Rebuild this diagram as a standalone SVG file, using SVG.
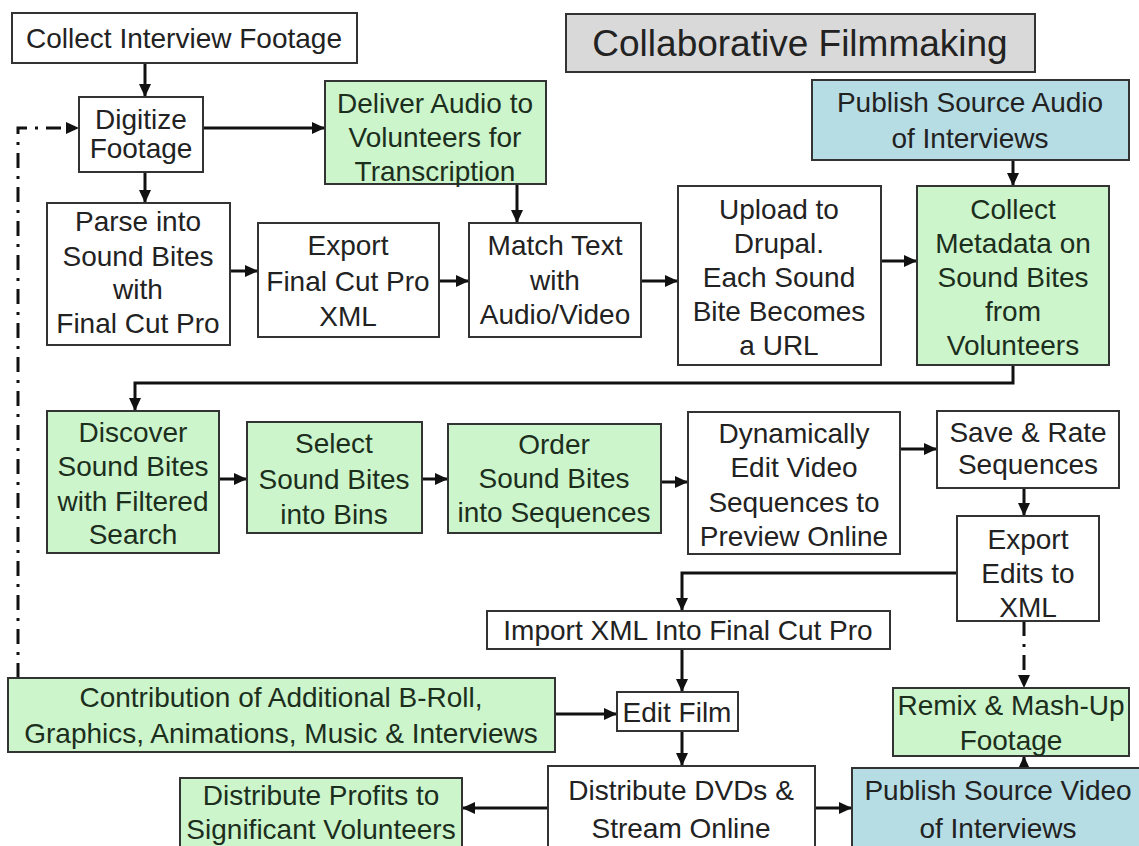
<svg xmlns="http://www.w3.org/2000/svg" width="1139" height="846" viewBox="0 0 1139 846">
<defs>
<marker id="ah" markerUnits="userSpaceOnUse" markerWidth="14" markerHeight="12" refX="13" refY="6" orient="auto"><path d="M0,0 L13,6 L0,12 z" fill="#111"/></marker>
<style>
.b{fill:#fff;stroke:#333;stroke-width:2}
.g{fill:#ccf5cc;stroke:#333;stroke-width:2}
.u{fill:#b6dde4;stroke:#333;stroke-width:2}
.t{fill:#d9d9d9;stroke:#333;stroke-width:2}
text{font-family:"Liberation Sans",Arial,sans-serif;font-size:28px;fill:#222;text-anchor:middle}
.gt text{fill:#1c2e1c}
.c{fill:none;stroke:#111;stroke-width:3;marker-end:url(#ah)}
.d{fill:none;stroke:#111;stroke-width:3;stroke-dasharray:15 8 3 8;marker-end:url(#ah)}
</style>
</defs>
<rect width="1139" height="846" fill="#fff"/>
<g id="connectors">
<path class="c" d="M145,63 V97"/>
<path class="c" d="M203,128 H325"/>
<path class="c" d="M145,172 V203"/>
<path class="c" d="M230,271 H258"/>
<path class="c" d="M439,281 H469"/>
<path class="c" d="M517,184 V223"/>
<path class="c" d="M641,281 H678"/>
<path class="c" d="M881,261 H917"/>
<path class="c" d="M1013,160 V186"/>
<path class="c" d="M1013,365 V383 H135 V411"/>
<path class="c" d="M219,479 H247"/>
<path class="c" d="M422,479 H448"/>
<path class="c" d="M661,482 H688"/>
<path class="c" d="M900,449 H937"/>
<path class="c" d="M1024,488 V516"/>
<path class="c" d="M957,573 H682 V611"/>
<path class="c" d="M682,649 V692"/>
<path class="c" d="M555,714 H617"/>
<path class="c" d="M682,731 V766"/>
<path class="c" d="M548,808 H462"/>
<path class="c" d="M815,808 H852"/>
<path class="c" d="M1024,768 V756"/>
<path class="d" d="M1024,621 V688"/>
<path class="d" d="M18,678 V128 H79"/>
</g>
<g id="title"><rect class="t" x="566" y="14" width="469" height="58"/><text x="800" y="56" style="font-size:37px">Collaborative Filmmaking</text></g>
<g id="collect"><rect class="b" x="12" y="13" width="345" height="50"/><text x="184" y="48">Collect Interview Footage</text></g>
<g id="digitize"><rect class="b" x="79" y="97" width="124" height="75"/><text x="141" y="129">Digitize</text><text x="141" y="158">Footage</text></g>
<g id="deliver" class="gt"><rect class="g" x="325" y="81" width="221" height="103"/><text x="435" y="113">Deliver Audio to</text><text x="435" y="147">Volunteers for</text><text x="435" y="181">Transcription</text></g>
<g id="pubaudio"><rect class="u" x="812" y="80" width="317" height="80"/><text x="970" y="112">Publish Source Audio</text><text x="970" y="148">of Interviews</text></g>
<g id="parse"><rect class="b" x="47" y="203" width="183" height="142"/><text x="138" y="231">Parse into</text><text x="138" y="266">Sound Bites</text><text x="138" y="299">with</text><text x="138" y="333">Final Cut Pro</text></g>
<g id="exportfcp"><rect class="b" x="258" y="223" width="181" height="114"/><text x="348" y="255">Export</text><text x="348" y="291">Final Cut Pro</text><text x="348" y="326">XML</text></g>
<g id="match"><rect class="b" x="469" y="223" width="172" height="114"/><text x="555" y="255">Match Text</text><text x="555" y="290">with</text><text x="555" y="324">Audio/Video</text></g>
<g id="upload"><rect class="b" x="678" y="186" width="203" height="179"/><text x="779" y="219">Upload to</text><text x="779" y="253">Drupal.</text><text x="779" y="287">Each Sound</text><text x="779" y="321">Bite Becomes</text><text x="779" y="355">a URL</text></g>
<g id="metadata" class="gt"><rect class="g" x="917" y="186" width="192" height="179"/><text x="1013" y="219">Collect</text><text x="1013" y="253">Metadata on</text><text x="1013" y="287">Sound Bites</text><text x="1013" y="321">from</text><text x="1013" y="355">Volunteers</text></g>
<g id="discover" class="gt"><rect class="g" x="47" y="411" width="172" height="142"/><text x="133" y="442">Discover</text><text x="133" y="476">Sound Bites</text><text x="133" y="511">with Filtered</text><text x="133" y="544">Search</text></g>
<g id="select" class="gt"><rect class="g" x="247" y="422" width="175" height="111"/><text x="334" y="453">Select</text><text x="334" y="489">Sound Bites</text><text x="334" y="524">into Bins</text></g>
<g id="order" class="gt"><rect class="g" x="448" y="424" width="213" height="109"/><text x="554" y="454">Order</text><text x="554" y="488">Sound Bites</text><text x="554" y="522">into Sequences</text></g>
<g id="dynamic"><rect class="b" x="688" y="412" width="212" height="142"/><text x="794" y="443">Dynamically</text><text x="794" y="477">Edit Video</text><text x="794" y="512">Sequences to</text><text x="794" y="546">Preview Online</text></g>
<g id="save"><rect class="b" x="937" y="411" width="182" height="77"/><text x="1028" y="442">Save &amp; Rate</text><text x="1028" y="474">Sequences</text></g>
<g id="exportedits"><rect class="b" x="957" y="516" width="142" height="105"/><text x="1028" y="549">Export</text><text x="1028" y="583">Edits to</text><text x="1028" y="617">XML</text></g>
<g id="import"><rect class="b" x="487" y="611" width="403" height="38"/><text x="688" y="640">Import XML Into Final Cut Pro</text></g>
<g id="contribution" class="gt"><rect class="g" x="8" y="678" width="547" height="74"/><text x="281" y="707">Contribution of Additional B-Roll,</text><text x="281" y="743">Graphics, Animations, Music &amp; Interviews</text></g>
<g id="editfilm"><rect class="b" x="617" y="692" width="121" height="39"/><text x="677" y="722">Edit Film</text></g>
<g id="remix" class="gt"><rect class="g" x="893" y="688" width="236" height="68"/><text x="1011" y="715">Remix &amp; Mash-Up</text><text x="1011" y="750">Footage</text></g>
<g id="profits" class="gt"><rect class="g" x="180" y="778" width="282" height="80"/><text x="321" y="805">Distribute Profits to</text><text x="321" y="839">Significant Volunteers</text></g>
<g id="dvds"><rect class="b" x="548" y="766" width="267" height="90"/><text x="681" y="800">Distribute DVDs &amp;</text><text x="681" y="838">Stream Online</text></g>
<g id="pubvideo"><rect class="u" x="852" y="768" width="300" height="90"/><text x="998" y="800">Publish Source Video</text><text x="998" y="838">of Interviews</text></g>
</svg>
